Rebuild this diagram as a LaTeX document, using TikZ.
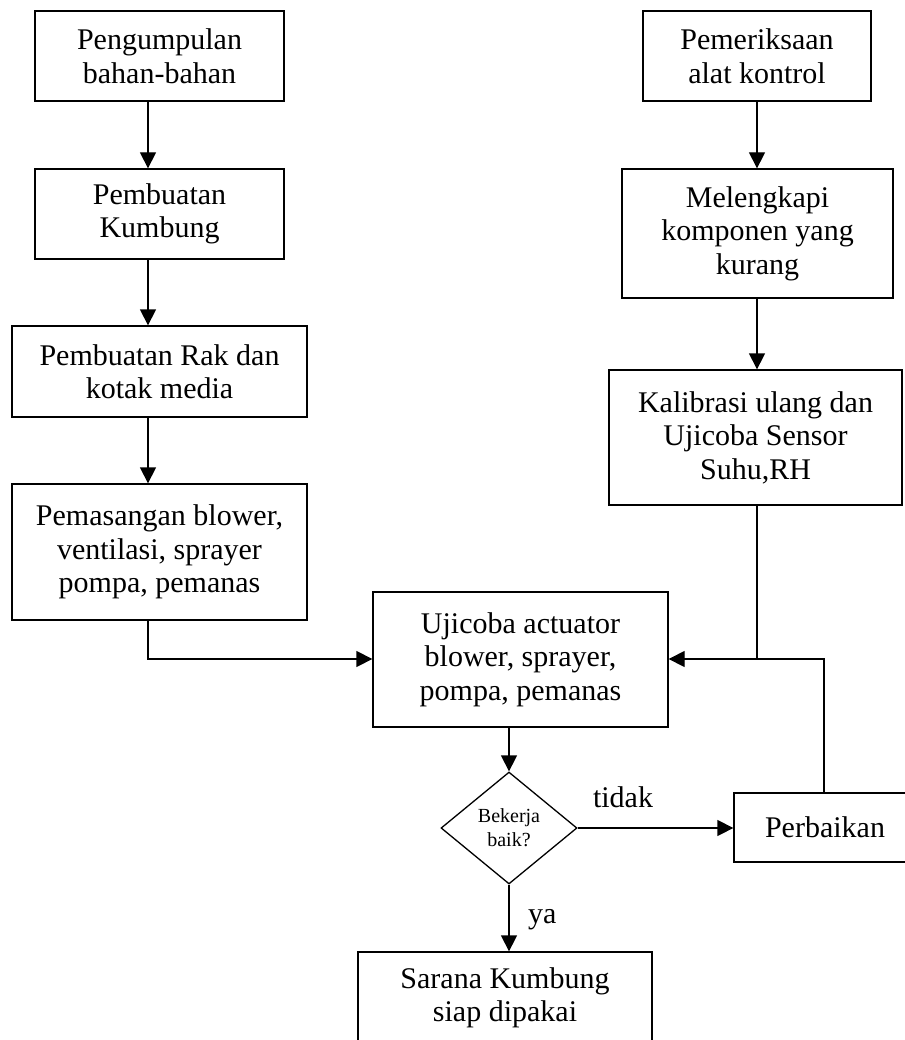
\documentclass[tikz,border=0pt]{standalone}
\usepackage{fontspec}
\setmainfont{Liberation Serif}
\usetikzlibrary{arrows.meta,shapes.geometric}

\tikzset{
  stepbox/.style={draw, line width=1.3pt, inner sep=0pt, align=center,
    font=\fontsize{30}{33.5}\selectfont},
  decision/.style={draw, line width=1.3pt, diamond, inner sep=0pt, aspect=1,
    minimum width=136pt, minimum height=112pt, align=center,
    font=\fontsize{20}{24}\selectfont},
  flow/.style={line width=1.3pt, -{Triangle[length=16pt,width=16pt]}},
  link/.style={line width=1.3pt},
  lbl/.style={inner sep=0pt, font=\fontsize{30}{33.5}\selectfont}
}

\begin{document}
\begin{tikzpicture}[x=1pt,y=-1pt]
  \useasboundingbox (0,0) rectangle (904,1040);

  % left column
  \node[stepbox, minimum width=249pt, minimum height=90pt] (b1) at (159.5,56)
    {Pengumpulan\\bahan-bahan};
  \node[stepbox, minimum width=249pt, minimum height=90pt] (b2) at (159.5,214)
    {Pembuatan\\Kumbung};
  \node[stepbox, minimum width=295pt, minimum height=91pt] (b3) at (159.5,371.5)
    {Pembuatan Rak dan\\kotak media};
  \node[stepbox, minimum width=295pt, minimum height=136pt] (b4) at (159.5,552)
    {Pemasangan blower,\\ventilasi, sprayer\\pompa, pemanas};

  % right column
  \node[stepbox, minimum width=228pt, minimum height=90pt] (r1) at (757,56)
    {Pemeriksaan\\alat kontrol};
  \node[stepbox, minimum width=271pt, minimum height=129pt] (r2) at (757.5,233.5)
    {Melengkapi\\komponen yang\\kurang};
  \node[stepbox, minimum width=293pt, minimum height=135pt] (r3) at (755.5,437.5)
    {Kalibrasi ulang dan\\Ujicoba Sensor\\Suhu,RH};

  % test, decision, repair, result
  \node[stepbox, minimum width=295pt, minimum height=135pt] (u) at (520.5,659.5)
    {Ujicoba actuator\\blower, sprayer,\\pompa, pemanas};
  \node[decision] (d) at (509,828) {Bekerja\\baik?};
  \node[stepbox, minimum width=182pt, minimum height=69pt] (p) at (825,827.5)
    {Perbaikan};
  \node[stepbox, minimum width=294pt, minimum height=92pt] (s) at (505,998)
    {Sarana Kumbung\\siap dipakai};

  % connector columns and junction
  \coordinate (lx) at (148,0);
  \coordinate (rx) at (757,0);
  \coordinate (ux) at (509,0);
  \coordinate (px) at (824,0);
  \coordinate (jl) at (148,659);
  \coordinate (jr) at (757,659);
  \coordinate (jp) at (824,659);

  % left chain
  \draw[flow] (b1.south -| lx) -- (b2.north -| lx);
  \draw[flow] (b2.south -| lx) -- (b3.north -| lx);
  \draw[flow] (b3.south -| lx) -- (b4.north -| lx);
  \draw[flow] (b4.south -| lx) -- (jl) -- (u.west |- jl);

  % right chain
  \draw[flow] (r1.south -| rx) -- (r2.north -| rx);
  \draw[flow] (r2.south -| rx) -- (r3.north -| rx);
  \draw[link] (r3.south -| rx) -- (jr);
  \draw[flow] (p.north -| px) -- (jp) -- (u.east |- jp);

  % decision branches
  \draw[flow] (u.south -| ux) -- (d.north);
  \draw[flow] (d.east) -- (p.west |- d.east);
  \draw[flow] (d.south) -- (s.north -| ux);

  \node[lbl, anchor=base] (tidak) at (623,807) {tidak};
  \node[lbl, anchor=base west] (ya) at (528,923) {ya};
\end{tikzpicture}
\end{document}
